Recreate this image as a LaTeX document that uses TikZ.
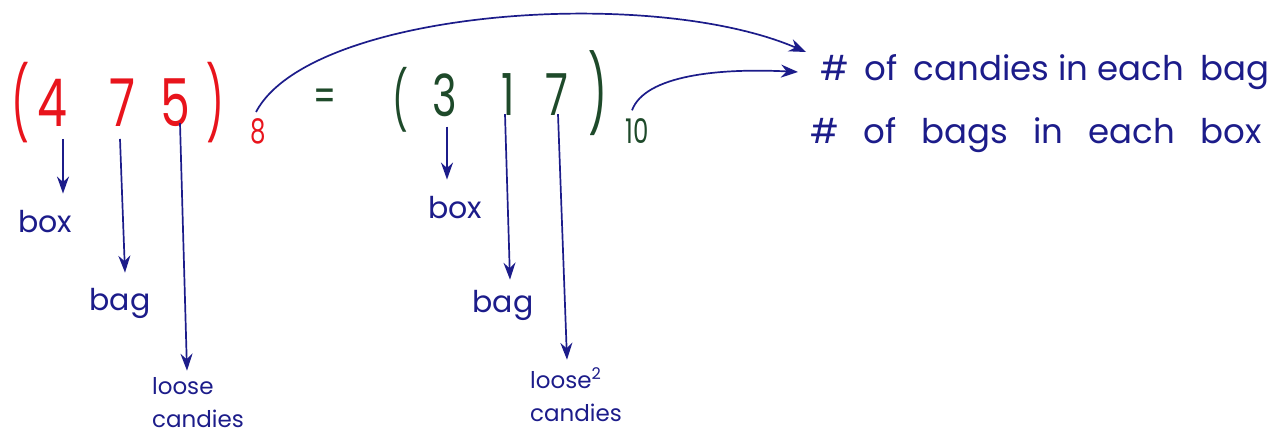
\documentclass[tikz,border=0pt]{standalone}
\usepackage{fontspec}
\setmainfont{Poppins}
\usetikzlibrary{arrows.meta}
\definecolor{pred}{HTML}{E8141C}
\definecolor{pgreen}{HTML}{1E4A2A}
\definecolor{pblue}{HTML}{1C1C8A}
\newcommand{\narr}[1]{\scalebox{0.72}[1]{#1}}
\newcommand{\gap}{\hspace{16pt}}
\newcommand{\sgap}{\hspace{7pt}}
\begin{document}
\begin{tikzpicture}[x=1pt,y=-1pt,
  rdig/.style={inner sep=0pt,text=pred,font=\fontsize{66}{66}\selectfont},
  gdig/.style={inner sep=0pt,text=pgreen,font=\fontsize{58}{58}\selectfont},
  rsub/.style={inner sep=0pt,text=pred,font=\fontsize{34}{34}\selectfont},
  gsub/.style={inner sep=0pt,text=pgreen,font=\fontsize{34}{34}\selectfont},
  lab/.style={inner sep=0pt,text=pblue,font=\fontsize{30}{32}\selectfont},
  txt/.style={inner sep=0pt,text=pblue,font=\fontsize{34}{36}\selectfont},
  small/.style={inner sep=0pt,text=pblue,align=left,font=\fontsize{23}{33}\selectfont},
  arr/.style={draw=pblue,line width=1.7pt,-{Stealth[length=17pt,width=12pt]}},
  curve/.style={draw=pblue,line width=1.7pt,-{Stealth[length=17pt,width=13pt]}}
]
\useasboundingbox (0,0) rectangle (1284,443);
% red number
\node[rdig,font=\fontsize{72}{72}\selectfont] (rl) at (20,103) {\scalebox{0.55}[1]{(}};
\node[rdig] (r4) at (52,103) {\narr{4}};
\node[rdig] (r7) at (122,103) {\narr{7}};
\node[rdig] (r5) at (175,103) {\narr{5}};
\node[rdig,font=\fontsize{72}{72}\selectfont] (rr) at (215,103) {\scalebox{0.55}[1]{)}};
\node[rsub] (r8) at (258,131) {\narr{8}};
% equals
\node[gdig,font=\fontsize{44}{44}\selectfont] (eq) at (325,100) {\narr{=}};
% green number
\node[gdig] (gl) at (400,100) {\scalebox{0.6}[1]{(}};
\node[gdig] (g3) at (445,95) {\narr{3}};
\node[gdig] (g1) at (508,95) {\narr{1}};
\node[gdig] (g7) at (557,95) {\narr{7}};
\node[gdig,font=\fontsize{76}{76}\selectfont] (gr) at (598,93) {\scalebox{0.55}[1]{)}};
\node[gsub] (g10) at (637,131) {\narr{10}};
% labels
\node[lab] (lbox1) at (45,222) {box};
\node[lab] (lbag1) at (120,303) {bag};
\node[small] (lloose1) at (198,403) {loose\\candies};
\node[lab] (lbox2) at (455,208) {box};
\node[lab] (lbag2) at (503,305) {bag};
\node[small] (lloose2) at (576,395) {loose\textsuperscript{\rmfamily 2}\\candies};
% right text
\node[txt,anchor=west] (t1) at (820,72) {\#\sgap{} of\sgap{} candies in each\sgap{} bag};
\node[txt,anchor=west] (t2) at (810,135) {\#\gap{} of\gap{} bags\gap{} in\gap{} each\gap{} box};
\coordinate (tip1) at (806,52);
\coordinate (tip2) at (798,72);
% arrows
\draw[arr] ([xshift=11pt,yshift=-12pt]r4.south) -- ([xshift=18pt,yshift=17pt]lbox1.north);
\draw[arr] ([xshift=-2pt,yshift=-12pt]r7.south) -- ([xshift=5pt,yshift=15pt]lbag1.north);
\draw[arr] ([xshift=5pt,yshift=4pt]r5.south) -- ([xshift=-11pt,yshift=7pt]lloose1.north);
\draw[arr] ([xshift=2pt,yshift=-10pt]g3.south) -- ([xshift=-8pt,yshift=17pt]lbox2.north);
\draw[arr] ([xshift=-3pt,yshift=2pt]g1.south) -- ([xshift=7pt,yshift=10pt]lbag2.north);
\draw[arr] ([xshift=1pt,yshift=2pt]g7.south) -- ([xshift=-9pt,yshift=8pt]lloose2.north);
\draw[curve] ([xshift=-2pt,yshift=6pt]r8.north) .. controls (310,10) and (650,-15) .. (tip1);
\draw[curve] ([xshift=-5pt,yshift=8pt]g10.north) .. controls (645,75) and (720,68) .. (tip2);
\end{tikzpicture}
\end{document}
